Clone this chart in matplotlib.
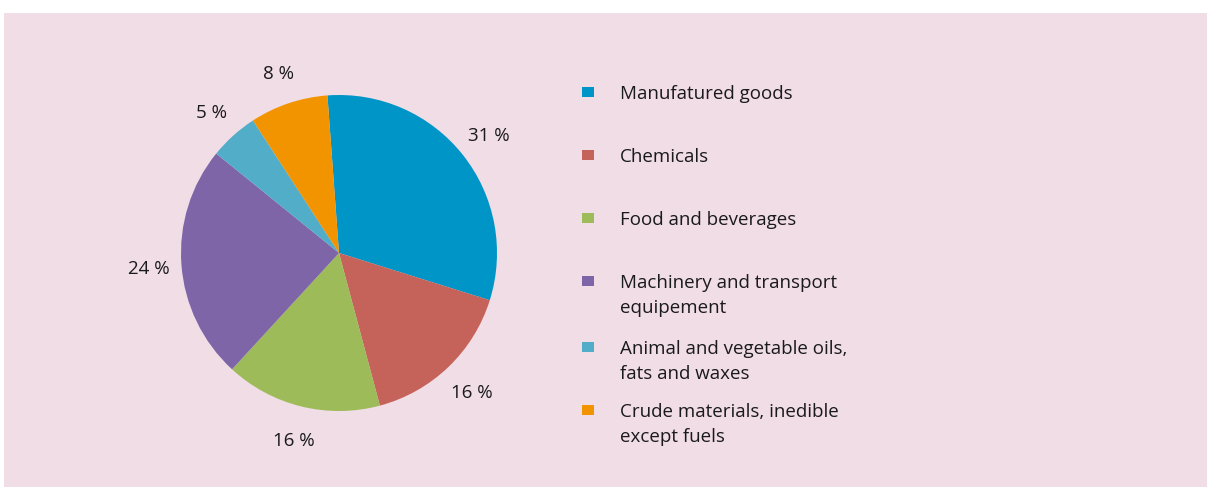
import matplotlib
matplotlib.use("Agg")
import matplotlib.pyplot as plt
from matplotlib.patches import Rectangle

# export structure, share of total (%)
categories = [
    "Manufatured goods",
    "Chemicals",
    "Food and beverages",
    "Machinery and transport\nequipement",
    "Animal and vegetable oils,\nfats and waxes",
    "Crude materials, inedible\nexcept fuels",
]
shares = [31, 16, 16, 24, 5, 8]
colors = ["#0095c7", "#c5625a", "#9dbb59", "#7e65a7", "#52aec8", "#f29400"]

W, H = 1207, 487
plt.rcParams["font.family"] = ["Open Sans", "DejaVu Sans"]
FS = 13.5

fig = plt.figure(figsize=(W / 100, H / 100), dpi=100)
fig.patch.set_facecolor("white")

# pink panel behind everything
fig.patches.append(Rectangle((4 / W, 0), 1 - 4 / W, (H - 13) / H,
                             transform=fig.transFigure, facecolor="#f0dde5",
                             edgecolor="none", zorder=-5))

cx, cy, r = 339, 253, 158
ax = fig.add_axes([(cx - r) / W, (H - cy - r) / H, 2 * r / W, 2 * r / H])
ax.set_zorder(2)
wedges, texts, autotexts = ax.pie(
    shares, colors=colors, startangle=94.2, counterclock=False,
    wedgeprops=dict(linewidth=0), autopct=lambda p: "%.0f %%" % p,
    pctdistance=1.21, textprops=dict(fontsize=FS, color="#1a1a1a"))
for t in autotexts:
    t.set_va("center_baseline")
ax.set_xlim(-1, 1)
ax.set_ylim(-1, 1)
ax.set_aspect("equal")

# legend on the right, one text per line so each row starts at a fixed step
row_y = [92, 155, 218, 281, 347, 410]
line_step = 25
for name, col, y in zip(categories, colors, row_y):
    fig.patches.append(Rectangle((582 / W, 1 - (y + 5) / H), 12 / W, 10 / H,
                                 transform=fig.transFigure, facecolor=col,
                                 edgecolor="none", zorder=1))
    for i, line in enumerate(name.split("\n")):
        fig.text(620 / W, 1 - (y + 7 + i * line_step) / H, line, fontsize=FS,
                 color="#1a1a1a", va="baseline", ha="left")

fig.savefig("out.png", dpi=100)
